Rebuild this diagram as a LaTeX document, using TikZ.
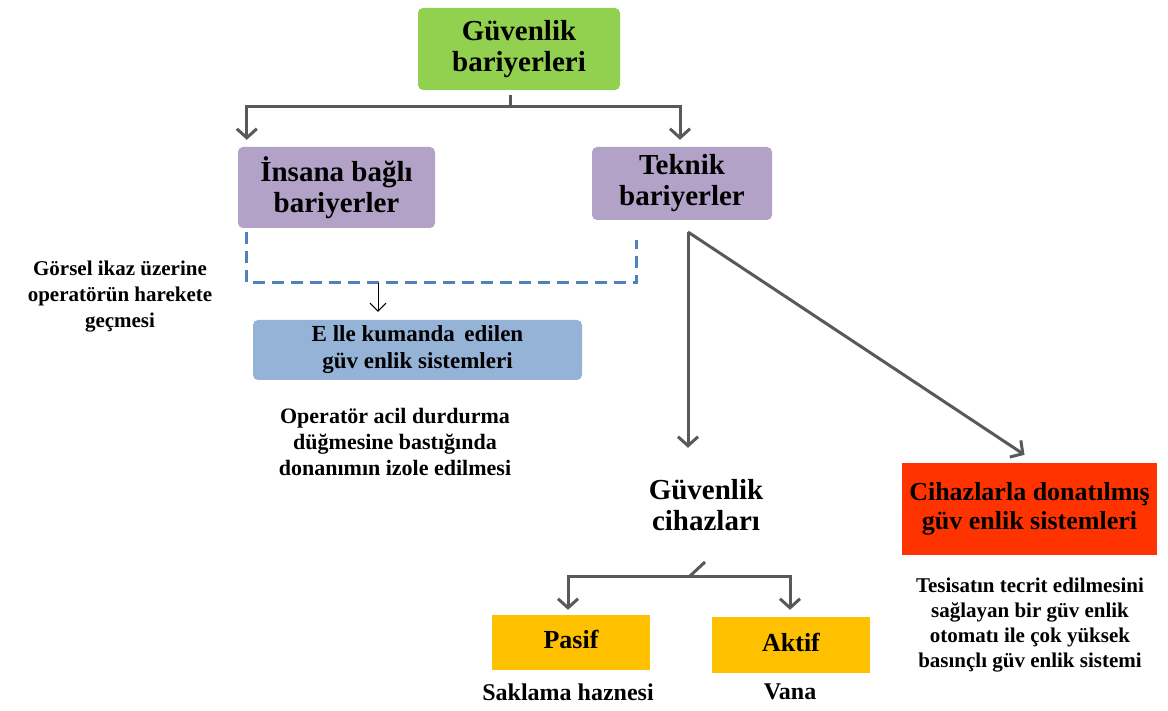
\documentclass[tikz,border=0pt]{standalone}
\usepackage{fontspec}
\setmainfont{Liberation Serif}
\usetikzlibrary{arrows.meta,positioning,calc}
\definecolor{topgreen}{HTML}{92D050}
\definecolor{midpurple}{HTML}{B3A2C7}
\definecolor{manblue}{HTML}{95B3D7}
\definecolor{dashblue}{HTML}{4F81BD}
\definecolor{sysred}{HTML}{FF3300}
\definecolor{devorange}{HTML}{FFC000}
\definecolor{arrowgray}{HTML}{595959}
\tikzstyle{line} = [draw, arrowgray, line width=3pt, -{Straight Barb[length=9pt,width=20pt]}]
\tikzstyle{stub} = [draw, arrowgray, line width=3pt]
\tikzstyle{thin_line} = [draw, black, line width=1pt, -{Straight Barb[length=8pt,width=16pt]}]
\tikzstyle{dash_line} = [draw, dashblue, line width=3pt, dash pattern=on 12pt off 7pt]
\tikzstyle{bar_top} = [rectangle, rounded corners=5pt, fill=topgreen, minimum width=202pt, minimum height=82pt, align=center, font=\fontsize{29}{31}\selectfont\bfseries]
\tikzstyle{bar_mid} = [rectangle, rounded corners=5pt, fill=midpurple, minimum height=81pt, align=center, font=\fontsize{29}{31}\selectfont\bfseries]
\tikzstyle{man_sys} = [rectangle, rounded corners=5pt, fill=manblue, minimum width=329pt, minimum height=60pt, align=center, font=\fontsize{23}{27}\selectfont\bfseries]
\tikzstyle{auto_sys} = [rectangle, fill=sysred, minimum width=255pt, minimum height=92pt, align=center, inner sep=0pt, font=\fontsize{26}{31}\selectfont\bfseries]
\tikzstyle{dev_box} = [rectangle, fill=devorange, minimum width=158pt, minimum height=55pt, align=center, font=\fontsize{26}{28}\selectfont\bfseries]
\tikzstyle{note} = [align=center, font=\fontsize{21}{25}\selectfont\bfseries]
\tikzstyle{sub_note} = [align=center, font=\fontsize{24}{26}\selectfont\bfseries]

\begin{document}
\begin{tikzpicture}[x=1pt, y=-1pt]
			\useasboundingbox (0,0) rectangle (1168,711);
			
			\node [bar_top] (top) at (519,49) {Güvenlik\\bariyerleri};
			
			\node [bar_mid, minimum width=197pt] (human) at (336.5,187.5) {İnsana bağlı\\bariyerler};
			\node [bar_mid, minimum width=180pt, minimum height=73pt] (tech) at (682,183.5) {Teknik\\bariyerler};
			
			\node [man_sys] (manual) at (417.5,350) {E lle kumanda\, edilen\\güv enlik sistemleri};
			\node [note, font=\fontsize{21}{26}\selectfont\bfseries] (visual) at (120,297) {Görsel ikaz üzerine\\operatörün harekete\\geçmesi};
			\node [note, font=\fontsize{22}{26}\selectfont\bfseries] (button) at (395,442) {Operatör acil durdurma\\düğmesine bastığında\\donanımın izole edilmesi};
			
			\node [align=center, font=\fontsize{29}{31}\selectfont\bfseries] (devices) at (706,505) {Güvenlik\\cihazları};
			\node [auto_sys] (instr) at (1029.5,509) {\raisebox{8pt}{\begin{tabular}{@{}c@{}}Cihazlarla donatılmış\\[-2pt]güv enlik sistemleri\end{tabular}}};
			\node [note] (plant) at (1030,625) {Tesisatın tecrit edilmesini\\sağlayan bir güv enlik\\otomatı ile çok yüksek\\basınçlı güv enlik sistemi};
			
			\node [dev_box] (passive) at (571,642.5) {\raisebox{6pt}{Pasif}};
			\node [dev_box, minimum height=56pt] (active) at (791,645) {\raisebox{6pt}{Aktif}};
			\node [sub_note] (tank) at (568,692) {Saklama haznesi};
			\node [sub_note] (valve) at (790,692) {Vana};
			
			% top fork
			\coordinate (topfork) at (510,107);
			\path [stub] ([yshift=-5pt]top.south -| topfork) to (topfork);
			\path [line] (topfork) -| ([xshift=9pt,yshift=7pt]human.north west);
			\path [line] (topfork) -| ([xshift=-2pt,yshift=7pt]tech.north);
			
			% dashed link to manual systems
			\coordinate (dashmid) at (378,283);
			\path [dash_line] ([xshift=9pt,yshift=-4pt]human.south west) |- (dashmid) -| ([xshift=45pt,yshift=-20pt]tech.south west);
			\path [thin_line] (dashmid) to ([yshift=8pt]dashmid |- manual.north);
			
			% technical barriers
			\coordinate (techroot) at (688,232);
			\path [line] (techroot) to ([yshift=28pt]techroot |- devices.north);
			\path [line] (techroot) to ([xshift=-5pt,yshift=8pt]instr.north);
			
			% device fork
			\coordinate (devstub) at (705,562);
			\coordinate (devfork) at (690,576);
			\path [stub] (devstub) to (devfork);
			\path [line] (devfork) -| ([xshift=-3pt,yshift=5pt]passive.north);
			\path [line] (devfork) -| ([xshift=-1pt,yshift=7pt]active.north);
		\end{tikzpicture}
\end{document}
